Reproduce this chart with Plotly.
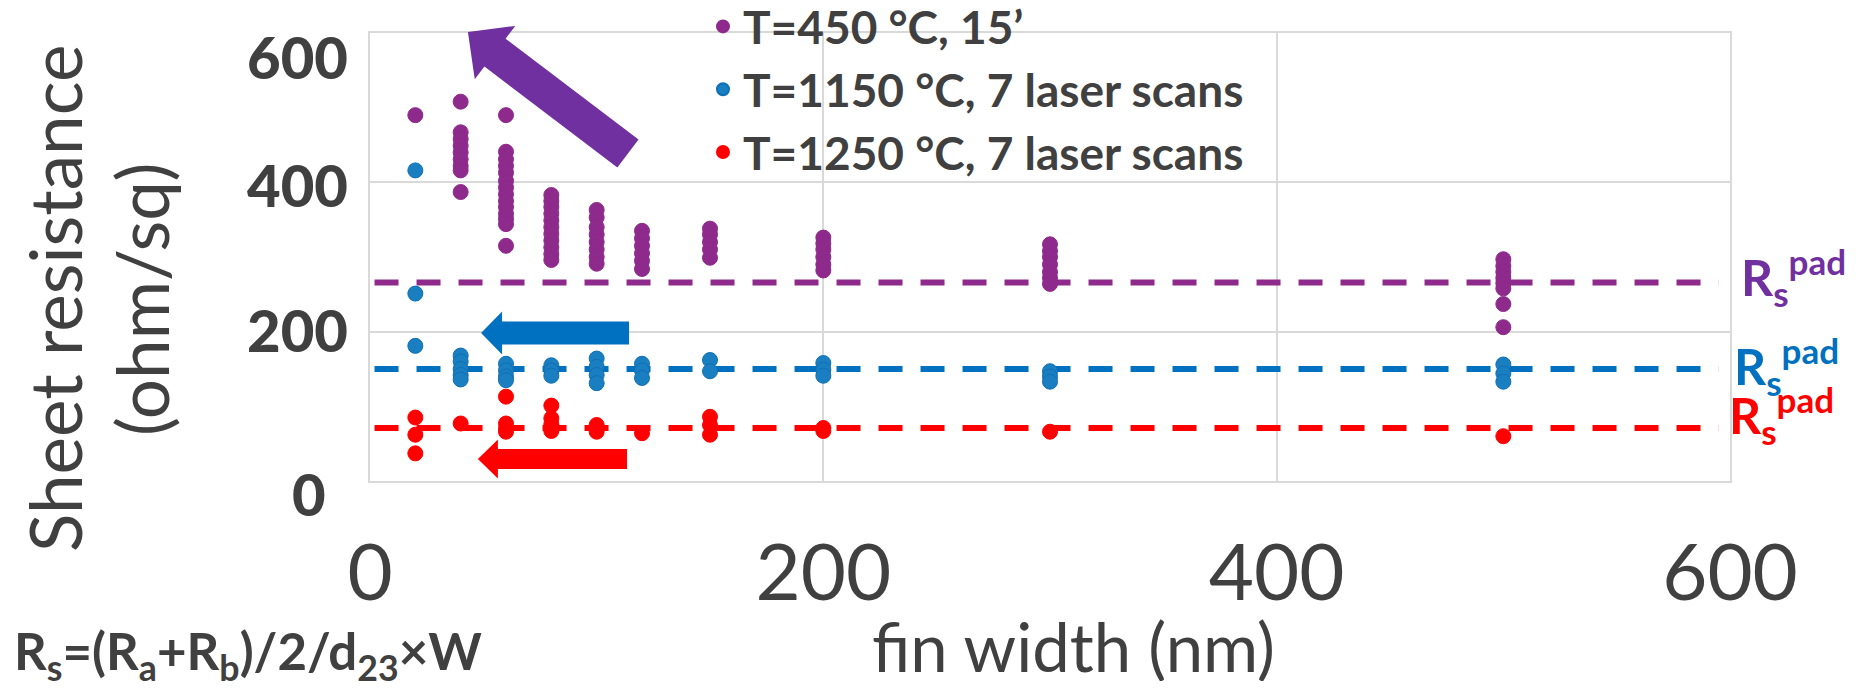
import plotly.graph_objects as go

# ---------------- data ----------------
fin_width = [20, 40, 60, 80, 100, 120, 150, 200, 300, 500]

rs_450 = [
    [490],
    [508, 467, 458, 449, 440, 431, 422, 416, 387],
    [490, 441, 431, 422, 413, 402, 393, 384, 375, 367, 358, 351, 344, 315],
    [383, 375, 367, 358, 349, 340, 331, 322, 313, 304, 296],
    [363, 353, 340, 330, 320, 310, 300, 291],
    [335, 325, 315, 305, 295, 284],
    [338, 330, 320, 310, 299],
    [326, 318, 310, 300, 290, 282],
    [317, 308, 300, 290, 280, 272, 264],
    [297, 288, 280, 272, 265, 258, 237, 206],
]
rs_1150 = [
    [416, 251, 181],
    [168, 160, 150, 142, 136],
    [157, 148, 140, 135],
    [155, 148, 141],
    [164, 153, 142, 131],
    [157, 148, 138],
    [162, 147],
    [158, 149, 141],
    [147, 140, 133],
    [156, 144, 133],
]
rs_1250 = [
    [85, 62, 37],
    [77],
    [113, 77, 70, 66],
    [101, 84, 76, 67],
    [75, 66],
    [64],
    [86, 75, 62],
    [71, 67],
    [66],
    [60],
]

series_names = ["T=450 °C, 15’", "T=1150 °C, 7 laser scans", "T=1250 °C, 7 laser scans"]
rs_pad = [266, 150, 71]
pad_line_x = [2, 595]

x_ticks = [0, 200, 400, 600]
x_tick_labels = ["0", "200", "400", "600"]
y_ticks = [0, 200, 400, 600]
y_tick_labels = ["0", "200", "400", "600"]

# ---------------- style ----------------
pt_colors = ["#8E2A8B", "#1A7FC1", "#FF0000"]
pt_edges = ["#8E2A8B", "#0F6FB5", "#FF0000"]
line_colors = ["#8E2A8B", "#0070C0", "#FF0000"]
label_colors = ["#7030A0", "#0070C0", "#FF0000"]
TXT = "#404040"
GRID = "#D9D9D9"
FONT = "Lato"

OFF = 8                      # default page body margin
PL, PT, PW, PH = 370, 33, 1360, 448   # plot area in page pixels
W, H = 1859 - 2 * OFF, 689 - 2 * OFF
ML, MT = PL - OFF, PT - OFF
MR, MB = W - ML - PW, H - MT - PH
X0, X1, Y0, Y1 = 0, 600, 0, 600


def d2px(x, y):
    return PL + (x - X0) / (X1 - X0) * PW, PT + (Y1 - y) / (Y1 - Y0) * PH


def px2paper(px, py):
    return (px - PL) / PW, (PT + PH - py) / PH


def arrow_path(tip, tail, shaft_w, head_w, head_len):
    px, py = d2px(*tip)
    qx, qy = d2px(*tail)
    dx, dy = px - qx, py - qy
    ln = (dx * dx + dy * dy) ** 0.5
    ux, uy = dx / ln, dy / ln
    nx, ny = -uy, ux
    bx, by = px - ux * head_len, py - uy * head_len
    pts = [
        (qx + nx * shaft_w / 2, qy + ny * shaft_w / 2),
        (bx + nx * shaft_w / 2, by + ny * shaft_w / 2),
        (bx + nx * head_w / 2, by + ny * head_w / 2),
        (px, py),
        (bx - nx * head_w / 2, by - ny * head_w / 2),
        (bx - nx * shaft_w / 2, by - ny * shaft_w / 2),
        (qx - nx * shaft_w / 2, qy - ny * shaft_w / 2),
    ]
    pp = [px2paper(a, b) for a, b in pts]
    return "M " + " L ".join(f"{a:.5f},{b:.5f}" for a, b in pp) + " Z"


fig = go.Figure()

# dashed Rs_pad lines
for i, v in enumerate(rs_pad):
    fig.add_trace(go.Scatter(
        x=pad_line_x, y=[v, v], mode="lines", showlegend=False, hoverinfo="skip",
        line=dict(color=line_colors[i], width=6, dash="24px,18px"),
    ))

# data points
for i, data in enumerate([rs_450, rs_1150, rs_1250]):
    xs, ys = [], []
    for xv, col in zip(fin_width, data):
        for yv in col:
            xs.append(xv)
            ys.append(yv)
    fig.add_trace(go.Scatter(
        x=xs, y=ys, mode="markers", name=series_names[i],
        marker=dict(size=15, color=pt_colors[i], line=dict(color=pt_edges[i], width=1)),
    ))

# arrows (decorations)
arrows = [
    dict(tip=(43.2, 601.3), tail=(113.8, 438.6), sw=35, hw=67, hl=34, c="#7030A0"),
    dict(tip=(49.0, 198.2), tail=(114.3, 198.2), sw=23, hw=43, hl=21, c="#0070C0"),
    dict(tip=(47.6, 29.5), tail=(113.4, 29.5), sw=20, hw=39, hl=20, c="#FF0000"),
]
shapes = []
for a in arrows:
    shapes.append(dict(type="path", xref="paper", yref="paper",
                       path=arrow_path(a["tip"], a["tail"], a["sw"], a["hw"], a["hl"]),
                       fillcolor=a["c"], line=dict(width=0), layer="above"))

annotations = []
# y tick labels
y_xshift = [-22, 0, 0, 0]
y_yshift = [-12, 2, -2, -23]
for v, lab, xs_, ys_ in zip(y_ticks, y_tick_labels, y_xshift, y_yshift):
    annotations.append(dict(
        text=lab, xref="paper", yref="y", x=px2paper(PL - 20, 0)[0], y=v,
        xanchor="right", yanchor="middle", showarrow=False, xshift=xs_, yshift=ys_,
        font=dict(family=FONT, size=58, color=TXT, weight=900),
    ))

# y axis title
for txt, cx in [("Sheet resistance", 54), ("(ohm/sq)", 141)]:
    annotations.append(dict(text=txt, xref="paper", yref="paper",
                            x=px2paper(cx, 0)[0], y=px2paper(0, 299)[1], textangle=-90,
                            xanchor="center", yanchor="middle", showarrow=False,
                            font=dict(family=FONT, size=71, color=TXT)))
# x axis title
annotations.append(dict(text="fin width (nm)", xref="paper", yref="paper",
                        x=px2paper(1073, 0)[0], y=px2paper(0, 646)[1],
                        xanchor="center", yanchor="middle", showarrow=False,
                        font=dict(family=FONT, size=67, color=TXT)))
# formula
annotations.append(dict(
    text="R<sub>s</sub>=(R<sub>a</sub>+R<sub>b</sub>)/2/d<sub>23</sub>×W",
    xref="paper", yref="paper", x=px2paper(12, 0)[0], y=px2paper(0, 654)[1],
    xanchor="left", yanchor="middle", showarrow=False,
    font=dict(family=FONT, size=51, color=TXT, weight="bold")))
# Rs pad labels
pad_lbl_x = [1739, 1732, 1727]
pad_lbl_shift = [5, 3, 13]
for i, v in enumerate(rs_pad):
    annotations.append(dict(
        text="R<sub>s</sub><sup>pad</sup>", xref="paper", yref="y",
        x=px2paper(pad_lbl_x[i], 0)[0], y=v, yshift=pad_lbl_shift[i],
        xanchor="left", yanchor="middle", showarrow=False,
        font=dict(family=FONT, size=50, color=label_colors[i], weight="bold")))

fig.update_layout(
    width=W, height=H,
    margin=dict(l=ML, r=MR, t=MT, b=MB, autoexpand=False),
    paper_bgcolor="white", plot_bgcolor="white",
    shapes=shapes, annotations=annotations,
    showlegend=True,
    legend=dict(x=px2paper(703, 0)[0], y=px2paper(0, -10)[1], xanchor="left", yanchor="top",
                bgcolor="rgba(0,0,0,0)", font=dict(family=FONT, size=46, color=TXT, weight="bold"),
                itemsizing="constant", tracegroupgap=0),
    xaxis=dict(range=[X0, X1], tickvals=x_ticks, ticktext=x_tick_labels,
               showgrid=True, gridcolor=GRID, gridwidth=2, zeroline=False,
               showline=True, linecolor=GRID, linewidth=2, mirror=True,
               ticks="", ticklabelstandoff=23,
               tickfont=dict(family=FONT, size=78, color=TXT)),
    yaxis=dict(range=[Y0, Y1], tickvals=y_ticks, showticklabels=False,
               showgrid=True, gridcolor=GRID, gridwidth=2, zeroline=False,
               showline=True, linecolor=GRID, linewidth=2, mirror=True, ticks=""),
)

fig.write_html("out.html")
